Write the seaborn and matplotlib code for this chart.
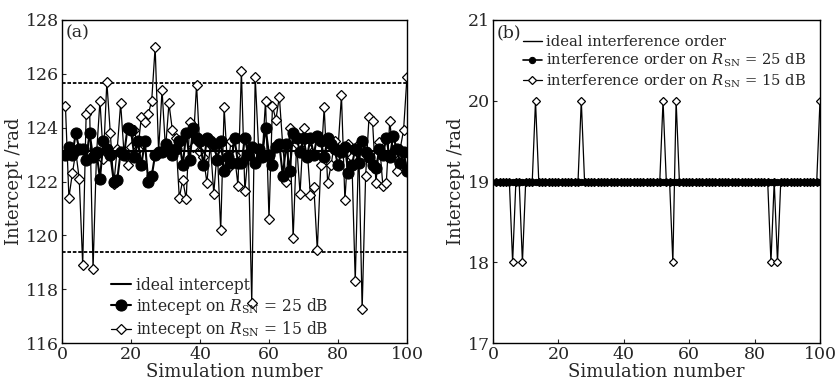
import numpy as np
import pandas as pd
import matplotlib
matplotlib.use("Agg")
import matplotlib.pyplot as plt
import seaborn as sns

# ---------------- data ----------------
sim = list(range(1, 101))

ideal_intercept = 123.15
bound_upper = 125.67
bound_lower = 119.39

intercept_25dB = [
    123.0, 123.3, 123.0, 123.8, 123.2, 123.2, 122.8, 123.8, 122.9, 123.1,
    122.1, 123.5, 123.2, 123.0, 122.0, 122.05, 123.1, 123.0, 124.0, 123.9,
    122.9, 123.5, 122.6, 123.5, 122.0, 122.2, 123.0, 123.1, 123.1, 123.4,
    123.2, 123.0, 123.2, 123.5, 122.6, 123.8, 122.8, 124.0, 123.6, 123.5,
    122.6, 123.6, 123.5, 123.4, 122.8, 123.5, 122.4, 122.9, 122.7, 123.6,
    122.7, 122.7, 123.6, 123.0, 123.3, 122.7, 123.2, 122.9, 124.0, 123.0,
    122.6, 123.3, 123.4, 122.2, 123.4, 122.4, 123.8, 123.6, 123.1, 123.6,
    122.9, 123.6, 123.0, 123.7, 123.5, 122.9, 123.6, 123.4, 123.2, 122.6,
    123.1, 123.3, 122.3, 122.6, 123.2, 122.7, 123.5, 123.1, 122.9, 122.6,
    122.5, 123.2, 123.0, 123.6, 122.9, 123.7, 123.2, 122.7, 123.1, 122.4,
]

intercept_15dB = [
    124.8, 121.4, 122.3, 123.1, 122.1, 118.9, 124.5, 124.7, 118.75, 123.0,
    125.0, 122.85, 125.7, 123.8, 121.9, 123.2, 124.9, 123.0, 122.6, 123.3,
    123.9, 123.2, 124.4, 124.2, 124.5, 125.0, 127.0, 123.1, 125.4, 123.2,
    124.9, 123.9, 123.6, 121.4, 122.05, 121.35, 124.2, 123.3, 125.6, 123.1,
    122.9, 121.95, 123.4, 121.55, 123.2, 120.2, 124.75, 122.5, 123.5, 123.0,
    121.85, 126.1, 121.65, 123.1, 117.5, 125.9, 123.2, 122.9, 125.0, 120.6,
    124.8, 124.3, 125.15, 123.3, 122.0, 124.0, 119.9, 123.4, 121.55, 124.0,
    123.3, 121.5, 121.8, 119.45, 122.6, 124.75, 121.95, 122.6, 123.5, 123.2,
    125.2, 121.3, 123.4, 122.9, 118.3, 123.4, 117.25, 122.2, 124.4, 124.25,
    121.95, 123.45, 121.85, 121.95, 124.25, 123.0, 122.4, 123.2, 123.9, 125.9,
]

ideal_order = 19
order_25dB = [19] * 100
order_15dB = [
    19, 19, 19, 19, 19, 18, 19, 19, 18, 19,
    19, 19, 20, 19, 19, 19, 19, 19, 19, 19,
    19, 19, 19, 19, 19, 19, 20, 19, 19, 19,
    19, 19, 19, 19, 19, 19, 19, 19, 19, 19,
    19, 19, 19, 19, 19, 19, 19, 19, 19, 19,
    19, 20, 19, 19, 18, 20, 19, 19, 19, 19,
    19, 19, 19, 19, 19, 19, 19, 19, 19, 19,
    19, 19, 19, 19, 19, 19, 19, 19, 19, 19,
    19, 19, 19, 19, 18, 19, 18, 19, 19, 19,
    19, 19, 19, 19, 19, 19, 19, 19, 19, 20,
]

left_yticks = [116, 118, 120, 122, 124, 126, 128]
right_yticks = [17, 18, 19, 20, 21]
xticks = [0, 20, 40, 60, 80, 100]

# ---------------- style ----------------
sns.set_theme(style="ticks")
plt.rcParams["font.family"] = ["DejaVu Serif"]
plt.rcParams["mathtext.fontset"] = "dejavuserif"
plt.rcParams["xtick.direction"] = "in"
plt.rcParams["ytick.direction"] = "in"
plt.rcParams["axes.edgecolor"] = "black"
plt.rcParams["axes.linewidth"] = 1.0

fig = plt.figure(figsize=(8.36, 3.84), dpi=100)
axL = fig.add_axes([62 / 836, 1 - 343 / 384, 345 / 836, 323 / 384])
axR = fig.add_axes([493 / 836, 1 - 343 / 384, 327 / 836, 323 / 384])

dfL = pd.DataFrame({"sim": sim, "v25": intercept_25dB, "v15": intercept_15dB})
dfR = pd.DataFrame({"sim": sim, "v25": order_25dB, "v15": order_15dB})

# ---- left panel ----
axL.axhline(bound_upper, color="black", ls=(0, (2, 1)), lw=1.3)
axL.axhline(bound_lower, color="black", ls=(0, (2, 1)), lw=1.3)
sns.lineplot(data=dfL, x="sim", y="v15", ax=axL, color="black", lw=0.9,
             marker="D", markersize=5.5, markerfacecolor="white",
             markeredgecolor="black", markeredgewidth=0.9,
             label=r"intecept on $R_{\rm SN}$ = 15 dB", zorder=2)
sns.lineplot(data=dfL, x="sim", y="v25", ax=axL, color="black", lw=1.5,
             marker="o", markersize=8, markerfacecolor="black",
             markeredgecolor="black", label=r"intecept on $R_{\rm SN}$ = 25 dB",
             zorder=3)
axL.axhline(ideal_intercept, color="black", lw=1.5, zorder=4, label="ideal intercept")

axL.set_xlim(0, 100)
axL.set_ylim(116, 128)
axL.set_xticks(xticks)
axL.set_yticks(left_yticks)
axL.set_xlabel("Simulation number", fontsize=13, labelpad=0)
axL.set_ylabel("Intercept /rad", fontsize=13, labelpad=2)
axL.tick_params(labelsize=12.5, length=3, width=0.8, top=False, right=False)
axL.tick_params(axis="x", pad=2)
axL.tick_params(axis="y", pad=2)
axL.text(0.01, 0.985, "(a)", transform=axL.transAxes, ha="left", va="top", fontsize=12.5)

h, l = axL.get_legend_handles_labels()
order = [l.index("ideal intercept"),
         l.index(r"intecept on $R_{\rm SN}$ = 25 dB"),
         l.index(r"intecept on $R_{\rm SN}$ = 15 dB")]
axL.legend([h[i] for i in order], [l[i] for i in order], loc="lower left",
           bbox_to_anchor=(0.11, -0.025), frameon=False, fontsize=11.2,
           handlelength=1.3, handletextpad=0.3, labelspacing=0.15, borderpad=0.2)

# ---- right panel ----
sns.lineplot(data=dfR, x="sim", y="v15", ax=axR, color="black", lw=0.9,
             marker="D", markersize=3.8, markerfacecolor="white",
             markeredgecolor="black", markeredgewidth=0.9,
             label=r"interference order on $R_{\rm SN}$ = 15 dB", zorder=2)
sns.lineplot(data=dfR, x="sim", y="v25", ax=axR, color="black", lw=1.2,
             marker="o", markersize=4.5, markerfacecolor="black",
             markeredgecolor="black",
             label=r"interference order on $R_{\rm SN}$ = 25 dB", zorder=3)
axR.axhline(ideal_order, color="black", lw=1.0, zorder=4, label="ideal interference order")

axR.set_xlim(0, 100)
axR.set_ylim(17, 21)
axR.set_xticks(xticks)
axR.set_yticks(right_yticks)
axR.set_xlabel("Simulation number", fontsize=13, labelpad=0)
axR.set_ylabel("Intercept /rad", fontsize=13, labelpad=2)
axR.tick_params(labelsize=12.5, length=3, width=0.8, top=False, right=False)
axR.tick_params(axis="x", pad=2)
axR.tick_params(axis="y", pad=2)
axR.text(0.01, 0.985, "(b)", transform=axR.transAxes, ha="left", va="top", fontsize=12.5)

h, l = axR.get_legend_handles_labels()
order = [l.index("ideal interference order"),
         l.index(r"interference order on $R_{\rm SN}$ = 25 dB"),
         l.index(r"interference order on $R_{\rm SN}$ = 15 dB")]
axR.legend([h[i] for i in order], [l[i] for i in order], loc="upper left",
           bbox_to_anchor=(0.06, 0.985), frameon=False, fontsize=10.6,
           handlelength=1.3, handletextpad=0.3, labelspacing=0.2, borderpad=0.2)

fig.savefig("out.png", dpi=100)
